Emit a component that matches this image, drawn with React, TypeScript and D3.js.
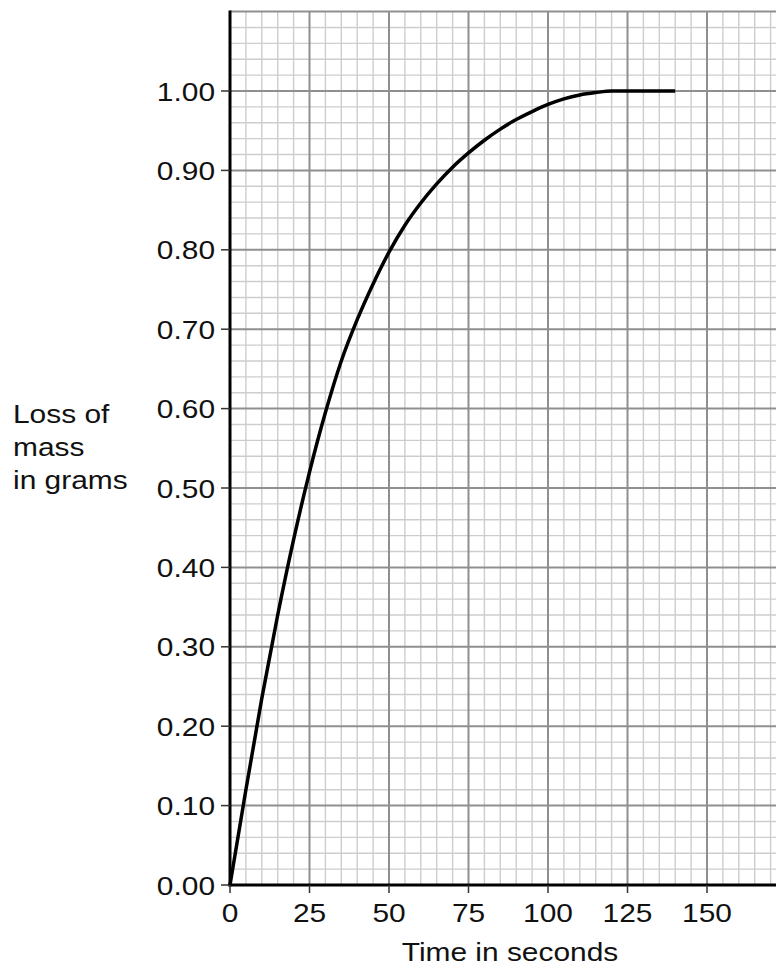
import * as d3 from 'd3';

// Loss of mass curve
const timeSeconds = [0, 5, 10, 15, 20, 25, 30, 35, 40, 45, 50, 55, 60, 65, 70, 75, 80, 85, 90, 95, 100, 105, 110, 115, 120, 130, 140];
const massLoss = [0, 0.12, 0.235, 0.34, 0.435, 0.52, 0.595, 0.66, 0.712, 0.757, 0.797, 0.831, 0.859, 0.883, 0.904, 0.922, 0.938, 0.952, 0.964, 0.974, 0.983, 0.99, 0.995, 0.998, 1.0, 1.0, 1.0];

const xTicks = [0, 25, 50, 75, 100, 125, 150];
const yTicks = [0, 0.1, 0.2, 0.3, 0.4, 0.5, 0.6, 0.7, 0.8, 0.9, 1.0];
const yLabelLines = ['Loss of', 'mass', 'in grams'];
const xLabel = 'Time in seconds';

const W = 776;
const H = 969;
const FONT = '"Liberation Sans", Arial, sans-serif';
const STRETCH = 1.15; // the scan is widened horizontally

export default function App() {
  const x = d3.scaleLinear().domain([0, 150]).range([230, 707]);
  const y = d3.scaleLinear().domain([0, 1]).range([885, 91]);

  const xMax = 175;
  const yMax = 1.1;

  const minorX = d3.range(0, xMax + 0.1, 5).filter((v) => v % 25 !== 0);
  const majorX = d3.range(0, xMax + 0.1, 25);
  const minorY = d3.range(0, 56).map((i) => i * 0.02).filter((_, i) => i % 5 !== 0);
  const majorY = d3.range(0, 12).map((i) => i * 0.1);

  const line = d3
    .line<number>()
    .x((_, i) => x(timeSeconds[i]))
    .y((d) => y(d))
    .curve(d3.curveMonotoneX);

  const label = (txt: string, tx: number, ty: number, anchor: string, key?: string | number) => (
    <text
      key={key ?? txt}
      transform={`translate(${tx},${ty}) scale(${STRETCH},1)`}
      textAnchor={anchor}
      fontFamily={FONT}
      fontSize={26}
      fill="#111"
    >
      {txt}
    </text>
  );

  return (
    <svg
      width={W}
      height={H}
      style={{ position: 'absolute', left: 0, top: 0, background: '#fff' }}
    >
      <g>
        {minorX.map((v) => (
          <line key={`mx${v}`} x1={x(v)} x2={x(v)} y1={y(0)} y2={y(yMax)} stroke="#cdcdcd" strokeWidth={1.4} />
        ))}
        {minorY.map((v) => (
          <line key={`my${v}`} x1={x(0)} x2={x(xMax)} y1={y(v)} y2={y(v)} stroke="#cdcdcd" strokeWidth={1.4} />
        ))}
        {majorX.map((v) => (
          <line key={`Mx${v}`} x1={x(v)} x2={x(v)} y1={y(0)} y2={y(yMax)} stroke="#8f8f8f" strokeWidth={2} />
        ))}
        {majorY.map((v) => (
          <line key={`My${v}`} x1={x(0)} x2={x(xMax)} y1={y(v)} y2={y(v)} stroke="#8f8f8f" strokeWidth={2} />
        ))}
      </g>

      {/* axes */}
      <line x1={x(0)} x2={x(0)} y1={y(0) + 1.5} y2={y(yMax) - 1} stroke="#000" strokeWidth={3} />
      <line x1={x(0) - 1.5} x2={x(xMax)} y1={y(0)} y2={y(0)} stroke="#000" strokeWidth={3} />

      {yTicks.map((v) => (
        <g key={`yt${v}`}>
          <line x1={x(0) - 9} x2={x(0)} y1={y(v)} y2={y(v)} stroke="#333" strokeWidth={1.5} />
          {label(v.toFixed(2), 215, y(v) + 9.5, 'end', `yl${v}`)}
        </g>
      ))}
      {xTicks.map((v) => (
        <g key={`xt${v}`}>
          <line x1={x(v)} x2={x(v)} y1={y(0)} y2={y(0) + 8} stroke="#333" strokeWidth={1.5} />
          {label(String(v), x(v), 922, 'middle', `xl${v}`)}
        </g>
      ))}

      {yLabelLines.map((t, i) => label(t, 13, 423 + i * 33, 'start', `yll${i}`))}
      {label(xLabel, 510, 961, 'middle')}

      <path d={line(massLoss) ?? ''} fill="none" stroke="#000" strokeWidth={3.5} strokeLinejoin="round" />
    </svg>
  );
}
